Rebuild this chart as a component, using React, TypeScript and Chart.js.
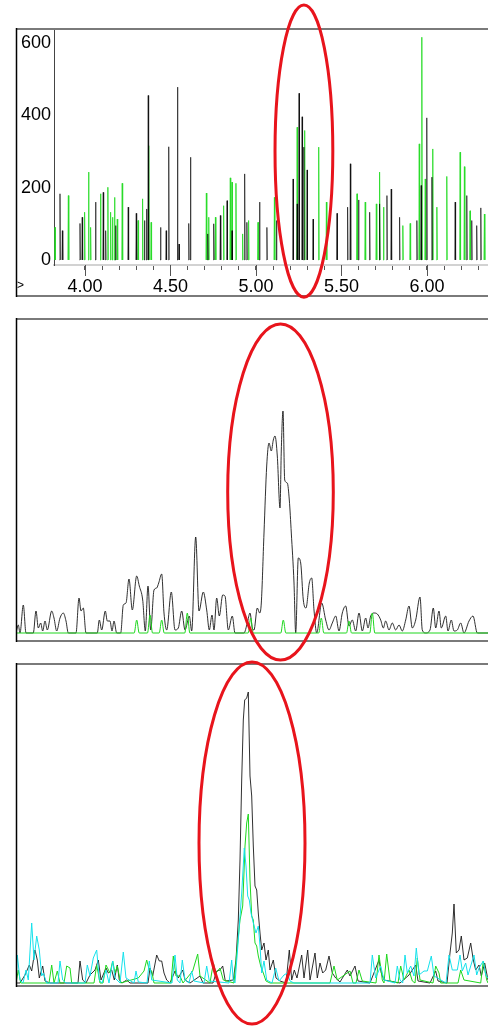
import React, { useEffect, useRef } from "react";
import { Chart, registerables } from "chart.js";

Chart.register(...registerables);

// ---------------- Top panel (m/z style trace) ----------------
const topXTickValues = [4.0, 4.1, 4.2, 4.3, 4.4, 4.5, 4.6, 4.7, 4.8, 4.9, 5.0, 5.1, 5.2, 5.3, 5.4, 5.5, 5.6, 5.7, 5.8, 5.9, 6.0, 6.1, 6.2, 6.3];
const topXLabelValues = [4.0, 4.5, 5.0, 5.5, 6.0];
const topXLabels = ["4.00", "4.50", "5.00", "5.50", "6.00"];
const topYTickValues = [0, 200, 400, 600];
const topXRange = [3.819, 6.357];
const topYRange = [-14, 636];

// [x, intensity]
const topBlackSpikes: [number, number][] = [
  [3.854, 183], [3.868, 81], [3.971, 101], [3.984, 118], [4.062, 160], [4.107, 187], [4.121, 81],
  [4.179, 95], [4.253, 146], [4.3, 129], [4.348, 109], [4.36, 141], [4.37, 455], [4.442, 90],
  [4.475, 81], [4.49, 313], [4.541, 478], [4.55, 44], [4.607, 101], [4.617, 284], [4.718, 72],
  [4.753, 100], [4.792, 123], [4.831, 164], [4.86, 81], [4.934, 238], [4.947, 104], [5.021, 160],
  [5.064, 90], [5.12, 109], [5.217, 224], [5.241, 155], [5.252, 461], [5.27, 396], [5.28, 312],
  [5.299, 249], [5.334, 113], [5.474, 129], [5.536, 146], [5.552, 266], [5.6, 166], [5.665, 132],
  [5.723, 155], [5.766, 178], [5.791, 196], [5.84, 118], [5.941, 109], [5.966, 206], [5.999, 393],
  [6.029, 229], [6.165, 160], [6.233, 178], [6.262, 109], [6.291, 95], [6.315, 144],
];
const topGreenSpikes: [number, number][] = [
  [3.825, 90], [3.903, 178], [3.998, 132], [4.021, 243], [4.033, 90], [4.091, 183], [4.134, 201],
  [4.15, 132], [4.161, 118], [4.173, 173], [4.189, 113], [4.218, 212], [4.311, 109], [4.337, 169],
  [4.373, 316], [4.387, 104], [4.71, 185], [4.724, 118], [4.763, 118], [4.811, 150], [4.85, 227],
  [4.86, 215], [4.883, 212], [4.922, 72], [4.957, 109], [5.012, 104], [5.108, 173], [5.241, 367],
  [5.285, 358], [5.367, 312], [5.412, 160], [5.591, 183], [5.639, 160], [5.704, 155], [5.723, 243],
  [5.746, 146], [5.859, 95], [5.902, 101], [5.955, 321], [5.97, 616], [5.99, 224], [6.034, 307],
  [6.058, 146], [6.116, 231], [6.194, 298], [6.219, 258], [6.252, 136], [6.336, 127],
];

// ---------------- Middle panel ----------------
const midXRange = [16, 488];
const midYRange = [-8, 313];
const midBlack: [number, number][] = [
  [16, 0], [18.3, 8], [20, 0], [23.3, 28], [26, 0], [33.3, 0], [36, 22], [38.3, 5], [40.7, 10], [42.7, 2],
  [45, 12], [47.3, 3], [51.7, 22], [54, 15], [56.7, 2], [60, 15], [63.3, 20], [66, 12], [68.3, 0], [76, 0],
  [79, 35], [81, 22], [83.3, 25], [86, 0], [97.3, 0], [99.3, 13], [101.7, 3], [105.3, 22], [107.3, 12],
  [110, 12], [112, 2], [114, 12], [116.7, 0], [120.7, 0], [123.3, 28], [126, 30], [129, 54], [132.3, 23],
  [136.7, 57], [139.3, 47], [142.7, 33], [145.3, 2], [148, 47], [150.7, 3], [154, 43], [156.7, 45],
  [158.7, 50], [161.7, 59], [164, 20], [166.7, 3], [171.3, 41], [175, 3], [178.3, 5], [181.7, 22],
  [185, 3], [189.3, 17], [191.7, 2], [195.7, 96], [199, 22], [203.3, 41], [206.7, 23], [209.3, 3],
  [212, 18], [214, 3], [216.7, 35], [219.3, 17], [222.7, 38], [225, 37], [228.3, 3], [232.3, 17],
  [235, 0], [244, 0], [247.3, 10], [250, 20], [252.3, 5], [254, 3], [257.3, 25], [259.7, 20], [261.3, 30],
  [264, 100], [266.7, 167], [269, 190], [271.3, 182], [273.3, 193], [275, 197], [277.3, 177], [280, 125],
  [281.3, 183], [283, 222], [284.7, 153], [287.3, 150], [289.3, 133], [291.3, 100], [294, 50], [295.7, 0],
  [298.3, 75], [300.7, 70], [303.3, 33], [306, 25], [309.3, 50], [311.7, 55], [314, 23], [316.7, 0],
  [321.7, 30], [325.7, 13], [329, 3], [332.3, 10], [335.7, 17], [339, 2], [342.3, 20], [345.7, 27],
  [349, 7], [352.3, 13], [355.7, 2], [359, 20], [362.3, 2], [365.7, 15], [368, 5], [370.7, 17], [374, 20],
  [377.3, 19], [380.7, 13], [383.3, 5], [385.7, 12], [389, 3], [392.3, 10], [395.7, 3], [399, 8],
  [402.3, 2], [405.7, 13], [409, 27], [412.3, 5], [415.7, 13], [420, 36], [422.3, 3], [425.7, 0],
  [430, 3], [433.3, 25], [435.7, 5], [439, 22], [441.3, 5], [445.7, 17], [448, 2], [451.3, 13], [454, 2],
  [457.3, 3], [460.7, 10], [464, 0], [469, 12], [473, 17], [477.3, 0], [488, 0],
];
const midGreen: [number, number][] = [
  [16, 0], [134.2, 0], [136.7, 13], [139.2, 0], [147.5, 0], [150, 18], [152.5, 0], [159.2, 0], [161.7, 13],
  [164.2, 0], [184.8, 0], [187.3, 20], [189.8, 0], [248.2, 0], [250.7, 15], [253.2, 0], [280.8, 0],
  [283.3, 13], [285.8, 0], [318.8, 0], [321.3, 15], [323.8, 0], [346.5, 0], [349, 12], [351.5, 0],
  [369.8, 0], [372.3, 20], [374.8, 0], [488, 0],
];

// ---------------- Bottom panel ----------------
const botXRange = [16, 488];
const botYRange = [-3, 318];
const botBlack: [number, number][] = [
  [16, 0], [20, 0], [25, 8], [29.3, 18], [31.7, 12], [35, 33], [37.3, 23], [39.3, 5], [42.7, 17], [45, 2],
  [50, 0], [78, 0], [80, 22], [82.7, 3], [86, 0], [90, 8], [95, 13], [98.3, 23], [101, 3], [106, 15],
  [108.3, 10], [111.7, 13], [114.3, 3], [117.3, 18], [119.3, 3], [122, 0], [126.7, 3], [130, 0], [148, 0],
  [150, 15], [152.7, 7], [156.7, 28], [159.3, 22], [161.7, 22], [164, 10], [166.7, 3], [170, 0], [175, 12],
  [178.3, 5], [182.7, 13], [185, 3], [190, 0], [200, 7], [203, 0], [213, 0], [216.7, 12], [220, 13],
  [222.7, 17], [225.3, 2], [233.3, 3], [236, 23], [238.3, 63], [240, 123], [241.7, 203], [243.3, 263],
  [244.7, 283], [246.7, 285], [248.3, 291], [250, 207], [251.7, 187], [253.3, 137], [255, 97], [256.7, 93],
  [258.3, 70], [260, 50], [261.7, 33], [264, 40], [266, 23], [268.3, 33], [270, 13], [273.3, 23], [276, 5],
  [280, 2], [286, 0], [289.3, 33], [291.7, 3], [294.3, 13], [297, 5], [301.7, 28], [304, 5], [307.7, 33],
  [310, 3], [315, 30], [317.3, 5], [320, 20], [322.7, 10], [325.7, 13], [329, 27], [332.3, 10], [335.7, 5],
  [340, 1], [347.3, 13], [350, 7], [355, 17], [358, 2], [370, 0], [379, 23], [381.3, 10], [384, 3],
  [400, 0], [409, 8], [412.3, 13], [415.7, 18], [418, 2], [430, 0], [435.7, 12], [438, 2], [447, 0],
  [450, 30], [452.3, 50], [454, 79], [456.3, 30], [459, 33], [461.3, 47], [464, 23], [467.3, 25],
  [470.7, 40], [473.3, 23], [475.7, 13], [479, 18], [481.3, 7], [484.7, 20], [488, 3],
];
const botGreen: [number, number][] = [
  [16, 0], [16.5, 0], [18.3, 13], [20.7, 0], [49, 0], [51.7, 18], [54, 0], [57.3, 12], [60, 0], [64, 0],
  [66.7, 17], [70, 15], [71.7, 0], [94, 0], [96.7, 18], [100, 0], [103, 0], [106, 18], [110, 10],
  [112.7, 22], [115, 10], [117.3, 17], [120.7, 0], [138.3, 5], [144, 12], [146.7, 23], [149.3, 13],
  [151.7, 12], [154, 0], [171, 0], [173.3, 27], [176, 7], [180, 7], [183, 0], [192.7, 12], [197.7, 29],
  [200, 7], [210, 0], [213.3, 20], [216, 10], [220, 15], [223.3, 3], [234, 0], [236.7, 30], [240, 63],
  [242.7, 77], [245, 137], [246.7, 160], [248.3, 169], [250, 103], [251.7, 67], [253.3, 63], [255, 40],
  [256.7, 37], [258.3, 27], [260.7, 17], [263.3, 10], [266, 2], [270, 0], [330, 0], [334, 17], [337.3, 3],
  [350, 12], [353, 0], [356, 0], [359, 13], [362.3, 2], [376, 0], [379, 28], [382.3, 3], [384, 0],
  [386.7, 29], [390, 2], [398, 0], [400.7, 17], [404, 3], [409, 13], [412.3, 2], [415, 0], [417.3, 25],
  [420, 3], [433, 0], [435.7, 17], [439, 10], [440.7, 0], [458, 0], [460.7, 13], [464, 3], [480.7, 0],
  [483.3, 22], [486.7, 3], [488, 0],
];
const botCyan: [number, number][] = [
  [16, 0], [17.3, 28], [20, 3], [23, 0], [26, 13], [28.3, 3], [31.7, 60], [34, 23], [36.7, 47], [39.3, 33],
  [41.7, 7], [43.3, 10], [46.7, 0], [58, 0], [60, 22], [62.7, 3], [66, 0], [85, 0], [87.3, 18], [90, 7],
  [93.3, 25], [96.7, 33], [99.3, 3], [102, 0], [106, 13], [109, 0], [112.7, 22], [115, 5], [120, 0],
  [123.3, 31], [126, 5], [134, 0], [136, 12], [138.3, 1], [147, 0], [149.3, 22], [151.7, 3], [172, 0],
  [175, 28], [177.3, 3], [180, 0], [182.3, 23], [185, 3], [189, 0], [191.7, 12], [194, 2], [204, 0],
  [206.7, 17], [209.3, 2], [229, 0], [231.7, 23], [233.3, 2], [235, 0], [238.3, 43], [241.7, 90],
  [244.3, 135], [246, 117], [247.7, 87], [249.3, 83], [251, 70], [253.3, 60], [256, 50], [258.3, 57],
  [260, 37], [261.7, 10], [264, 22], [266.7, 3], [272, 0], [275.7, 15], [279, 2], [284, 8], [287.3, 10],
  [290, 2], [294, 0], [370, 0], [372.3, 28], [375.7, 5], [380.7, 17], [384, 3], [395, 0], [397.3, 17],
  [400, 3], [402.7, 0], [405, 28], [407.3, 10], [410.7, 17], [414, 7], [416.3, 35], [419, 8], [424, 12],
  [427.3, 12], [431.3, 27], [434, 7], [446, 0], [449, 28], [452.3, 13], [457.3, 13], [460, 28],
  [462.3, 12], [465.7, 20], [468, 8], [474, 28], [476.7, 8], [479, 15], [483.3, 22], [485.7, 8], [488, 5],
];

// Highlight ellipses, in each panel's data units: [cx, cy, rx, ry]
const topEllipse = [5.2805, 301, 0.169, 404];
const midEllipse = [280.5, 141, 52.8, 168];
const botEllipse = [252, 140, 53, 181];

// ---------------- styling ----------------
const FONT = "'Liberation Sans', Arial, sans-serif";
const SPIKE_BLACK = "rgba(0,0,0,0.62)";
const SPIKE_GREEN = "rgba(40,220,40,0.85)";
const TRACE_BLACK = "rgba(25,25,25,0.9)";
const GREEN = "rgb(30,215,30)";
const CYAN = "rgb(20,225,235)";
const RED = "#e8141c";
const SPIKE_HALF = 0.0025;

type Pt = { x: number; y: number | null };

function spikePoints(list: [number, number][]): Pt[] {
  const sorted = [...list].sort((a, b) => a[0] - b[0]);
  const pts: Pt[] = [];
  for (const [x, v] of sorted) {
    pts.push({ x: x - SPIKE_HALF, y: 0 }, { x, y: v }, { x: x + SPIKE_HALF, y: 0 }, { x: x + SPIKE_HALF * 1.01, y: null });
  }
  return pts;
}

function tracePoints(list: [number, number][]): Pt[] {
  return list.map(([x, y]) => ({ x, y }));
}

function panelPlugin(opts: { ellipse: number[]; kind: "top" | "plain"; majorTicks?: number[] }) {
  return {
    id: "panelDecor",
    afterDraw(chart: any) {
      const { ctx, chartArea } = chart;
      const xs = chart.scales.x;
      const ys = chart.scales.y;
      const W = chart.width;
      let left: number, top: number, bottom: number;
      if (opts.kind === "top") {
        left = ys.left;
        top = chartArea.top - 1;
        bottom = xs.bottom;
      } else {
        left = chartArea.left;
        top = chartArea.top - 1;
        bottom = chartArea.bottom;
      }
      ctx.save();
      ctx.lineCap = "butt";
      ctx.strokeStyle = "#7a7a7a";
      ctx.lineWidth = 2;
      ctx.beginPath();
      ctx.moveTo(left, top);
      ctx.lineTo(W, top);
      ctx.moveTo(left, bottom);
      ctx.lineTo(W, bottom);
      ctx.stroke();
      ctx.strokeStyle = "#000";
      ctx.lineWidth = 1.5;
      ctx.beginPath();
      ctx.moveTo(left + 0.5, top - 1);
      ctx.lineTo(left + 0.5, bottom + 1);
      ctx.stroke();

      if (opts.kind === "top" && opts.majorTicks) {
        ctx.strokeStyle = "#555";
        ctx.lineWidth = 1;
        ctx.beginPath();
        for (const v of opts.majorTicks) {
          const px = Math.round(xs.getPixelForValue(v)) + 0.5;
          ctx.moveTo(px, chartArea.bottom);
          ctx.lineTo(px, chartArea.bottom + 11);
        }
        ctx.stroke();
        ctx.fillStyle = "#000";
        ctx.font = `12px ${FONT}`;
        ctx.textBaseline = "middle";
        ctx.textAlign = "left";
        ctx.fillText(">", left + 1, chartArea.bottom + 21);
      }

      const [cx, cy, rx, ry] = opts.ellipse;
      const pcx = xs.getPixelForValue(cx);
      const pcy = ys.getPixelForValue(cy);
      const prx = Math.abs(xs.getPixelForValue(cx + rx) - pcx);
      const pry = Math.abs(ys.getPixelForValue(cy + ry) - pcy);
      ctx.strokeStyle = RED;
      ctx.lineWidth = 3;
      ctx.beginPath();
      ctx.ellipse(pcx, pcy, prx, pry, 0, 0, Math.PI * 2);
      ctx.stroke();
      ctx.restore();
    },
  };
}

const H = 1028;
const Wd = 488;

function lineDs(data: Pt[], color: string, tension: number, mono = false) {
  return {
    data,
    borderColor: color,
    borderWidth: 1,
    pointRadius: 0,
    pointHoverRadius: 0,
    fill: false,
    spanGaps: false,
    tension,
    cubicInterpolationMode: mono ? "monotone" : "default",
  };
}

function hiddenScales(xr: number[], yr: number[]) {
  return {
    x: { type: "linear", display: false, min: xr[0], max: xr[1] },
    y: { type: "linear", display: false, min: yr[0], max: yr[1] },
  };
}

export default function App() {
  const topRef = useRef<HTMLCanvasElement>(null);
  const midRef = useRef<HTMLCanvasElement>(null);
  const botRef = useRef<HTMLCanvasElement>(null);

  useEffect(() => {
    const charts: Chart[] = [];

    charts.push(
      new Chart(topRef.current as HTMLCanvasElement, {
        type: "line",
        data: {
          datasets: [
            lineDs(spikePoints(topBlackSpikes), SPIKE_BLACK, 0),
            lineDs(spikePoints(topGreenSpikes), SPIKE_GREEN, 0),
          ] as any,
        },
        options: {
          animation: false,
          responsive: false,
          maintainAspectRatio: false,
          events: [],
          layout: { padding: { left: 16, top: 30, right: 0, bottom: H - 296 } },
          plugins: { legend: { display: false }, tooltip: { enabled: false } },
          scales: {
            x: {
              type: "linear",
              min: topXRange[0],
              max: topXRange[1],
              afterBuildTicks: (s: any) => {
                s.ticks = topXTickValues.map((v) => ({ value: v }));
              },
              afterFit: (s: any) => {
                s.height = 31;
              },
              border: { display: true, color: "#d2d2d2", width: 2 },
              grid: { display: true, drawOnChartArea: false, drawTicks: true, tickLength: 5, tickColor: "#555", tickWidth: 1 },
              ticks: {
                autoSkip: false,
                maxRotation: 0,
                minRotation: 0,
                padding: 6,
                color: "#000",
                font: { family: FONT, size: 18 },
                callback: (v: any) => {
                  const i = topXLabelValues.findIndex((t) => Math.abs(t - Number(v)) < 1e-6);
                  return i >= 0 ? topXLabels[i] : "";
                },
              },
            },
            y: {
              type: "linear",
              min: topYRange[0],
              max: topYRange[1],
              afterBuildTicks: (s: any) => {
                s.ticks = topYTickValues.map((v) => ({ value: v }));
              },
              afterFit: (s: any) => {
                s.width = 38;
              },
              border: { display: true, color: "#444", width: 1 },
              grid: { display: false, drawTicks: false, tickLength: 0 },
              ticks: {
                padding: 3,
                color: "#000",
                font: { family: FONT, size: 18 },
                callback: (v: any) => String(v),
              },
            },
          } as any,
        },
        plugins: [panelPlugin({ ellipse: topEllipse, kind: "top", majorTicks: topXLabelValues })],
      } as any)
    );

    charts.push(
      new Chart(midRef.current as HTMLCanvasElement, {
        type: "line",
        data: {
          datasets: [
            lineDs(tracePoints(midGreen), GREEN, 0.4, true),
            lineDs(tracePoints(midBlack), TRACE_BLACK, 0.4, true),
          ] as any,
        },
        options: {
          animation: false,
          responsive: false,
          maintainAspectRatio: false,
          events: [],
          layout: { padding: { left: 16, top: 320, right: 0, bottom: H - 641 } },
          plugins: { legend: { display: false }, tooltip: { enabled: false } },
          scales: hiddenScales(midXRange, midYRange) as any,
        },
        plugins: [panelPlugin({ ellipse: midEllipse, kind: "plain" })],
      } as any)
    );

    charts.push(
      new Chart(botRef.current as HTMLCanvasElement, {
        type: "line",
        data: {
          datasets: [
            lineDs(tracePoints(botCyan), CYAN, 0),
            lineDs(tracePoints(botGreen), GREEN, 0),
            lineDs(tracePoints(botBlack), TRACE_BLACK, 0),
          ] as any,
        },
        options: {
          animation: false,
          responsive: false,
          maintainAspectRatio: false,
          events: [],
          layout: { padding: { left: 16, top: 665, right: 0, bottom: H - 986 } },
          plugins: { legend: { display: false }, tooltip: { enabled: false } },
          scales: hiddenScales(botXRange, botYRange) as any,
        },
        plugins: [panelPlugin({ ellipse: botEllipse, kind: "plain" })],
      } as any)
    );

    return () => {
      charts.forEach((c) => c.destroy());
    };
  }, []);

  const canvasStyle: React.CSSProperties = {
    position: "absolute",
    left: 0,
    top: 0,
    width: Wd,
    height: H,
    display: "block",
  };

  return (
    <div style={{ position: "absolute", left: 0, top: 0, width: Wd, height: H, background: "#fff", overflow: "hidden" }}>
      <canvas ref={topRef} width={Wd} height={H} style={canvasStyle} />
      <canvas ref={midRef} width={Wd} height={H} style={canvasStyle} />
      <canvas ref={botRef} width={Wd} height={H} style={canvasStyle} />
    </div>
  );
}
